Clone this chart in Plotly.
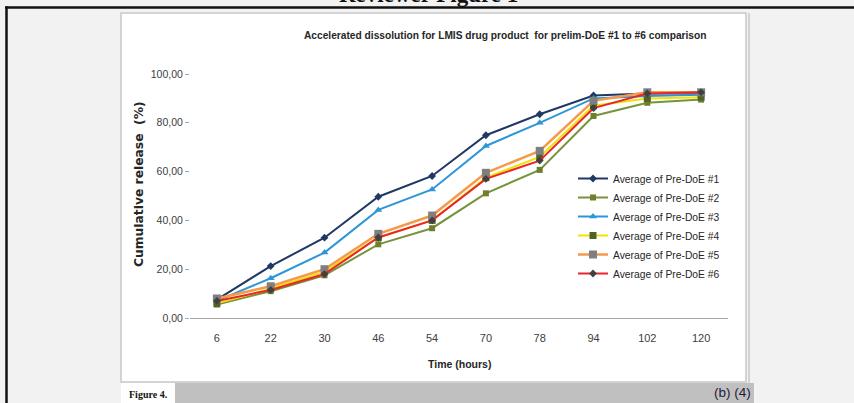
import plotly.graph_objects as go

# ---------------- data ----------------
time_hours = ["6", "22", "30", "46", "54", "70", "78", "94", "102", "120"]

doe1 = [7.5, 21.3, 32.9, 49.7, 58.2, 74.9, 83.5, 91.2, 92.0, 92.0]
doe2 = [5.5, 11.0, 17.5, 30.2, 36.8, 51.1, 60.7, 82.8, 88.2, 89.5]
doe3 = [7.0, 16.3, 26.8, 44.3, 52.7, 70.5, 80.0, 90.0, 91.0, 91.5]
doe4 = [6.0, 12.0, 19.0, 33.0, 40.0, 57.5, 66.0, 87.0, 90.0, 90.5]
doe5 = [8.0, 13.0, 20.0, 34.5, 42.0, 59.5, 68.5, 89.0, 92.5, 92.5]
doe6 = [7.0, 11.5, 18.0, 33.0, 40.0, 57.0, 64.5, 86.0, 92.0, 92.5]

series_names = ["Average of Pre-DoE #1", "Average of Pre-DoE #2", "Average of Pre-DoE #3",
                "Average of Pre-DoE #4", "Average of Pre-DoE #5", "Average of Pre-DoE #6"]

y_tick_values = [0, 20, 40, 60, 80, 100]
y_tick_labels = ["0,00", "20,00", "40,00", "60,00", "80,00", "100,00"]

chart_title = "Accelerated dissolution for LMIS drug product\u00a0 for prelim-DoE #1 to #6 comparison"
x_title = "Time (hours)"
y_title = "Cumulative release\u00a0 (%)"

# ---------------- styles ----------------
W, H = 854, 403
X0, X1, YB, YT = 190, 728, 318, 74   # plot area in pixels


def px(x):
    return (x - X0) / (X1 - X0)


def py(y):
    return (YB - y) / (YB - YT)


SANS = "Liberation Sans, Arial, sans-serif"

styles = [
    dict(line=dict(color="#1f3864", width=2), marker=dict(symbol="diamond", size=6, color="#1f3864")),
    dict(line=dict(color="#77933c", width=2), marker=dict(symbol="square", size=6, color="#6f7f2a")),
    dict(line=dict(color="#2e96d6", width=2), marker=dict(symbol="triangle-up", size=7, color="#2e96d6")),
    dict(line=dict(color="#f2e200", width=2), marker=dict(symbol="square", size=7, color="#4f6228")),
    dict(line=dict(color="#f59a4a", width=2.5), marker=dict(symbol="square", size=8, color="#7f7f7f")),
    dict(line=dict(color="#e8262b", width=2), marker=dict(symbol="diamond", size=6, color="#404040")),
]

fig = go.Figure()
for name, vals, st in zip(series_names, [doe1, doe2, doe3, doe4, doe5, doe6], styles):
    fig.add_trace(go.Scatter(x=time_hours, y=vals, mode="lines+markers", name=name,
                             line=st["line"], marker=st["marker"]))

shapes = [
    # chart image box
    dict(type="rect", xref="paper", yref="paper", x0=px(121), x1=px(746), y0=py(382), y1=py(13),
         fillcolor="white", line=dict(color="#c8c8c8", width=1.5), layer="below"),
    dict(type="line", xref="paper", yref="paper", x0=px(749), x1=px(749), y0=py(384), y1=py(13),
         line=dict(color="#c8c8c8", width=1.5)),
    # bottom gray bar + white label box
    dict(type="rect", xref="paper", yref="paper", x0=px(175), x1=px(754), y0=py(404), y1=py(383),
         fillcolor="#c0c0c0", line=dict(width=0)),
    dict(type="rect", xref="paper", yref="paper", x0=px(121), x1=px(175), y0=py(404), y1=py(383),
         fillcolor="white", line=dict(width=0)),
    # black page border lines
    dict(type="line", xref="paper", yref="paper", x0=px(5), x1=px(860), y0=py(7.5), y1=py(7.5),
         line=dict(color="#111111", width=2.5)),
    dict(type="line", xref="paper", yref="paper", x0=px(6.5), x1=px(6.5), y0=py(6.5), y1=py(410),
         line=dict(color="#111111", width=2.5)),
]

annotations = [
    dict(text="<b>Reviewer Figure 1</b>", x=px(428), y=py(-6), xref="paper", yref="paper",
         showarrow=False, xanchor="center", yanchor="middle",
         font=dict(family="Liberation Serif, Times New Roman, serif", size=23, color="#111111")),
    dict(text="<b>" + chart_title + "</b>", x=px(505), y=py(36), xref="paper", yref="paper",
         showarrow=False, xanchor="center", yanchor="middle",
         font=dict(family=SANS, size=10.2, color="#262626")),
    dict(text="<b>" + y_title + "</b>", x=px(139), y=py(184), xref="paper", yref="paper",
         showarrow=False, textangle=-90, xanchor="center", yanchor="middle",
         font=dict(family="DejaVu Sans, Verdana, sans-serif", size=12.3, color="#262626")),
    dict(text="<b>" + x_title + "</b>", x=px(459), y=py(364), xref="paper", yref="paper",
         showarrow=False, xanchor="center", yanchor="middle",
         font=dict(family=SANS, size=10.5, color="#262626")),
    dict(text="<b>Figure 4.</b>", x=px(127), y=py(394), xref="paper", yref="paper",
         showarrow=False, xanchor="left", yanchor="middle",
         font=dict(family="Liberation Serif, Times New Roman, serif", size=10, color="#111111")),
    dict(text="(b) (4)", x=px(753), y=py(392), xref="paper", yref="paper",
         showarrow=False, xanchor="right", yanchor="middle",
         font=dict(family=SANS, size=13.5, color="#1c1c3c")),
]

fig.update_layout(
    width=W, height=H,
    margin=dict(l=X0, r=W - X1, t=YT, b=H - YB, pad=0),
    paper_bgcolor="#f2f2f2",
    plot_bgcolor="white",
    showlegend=True,
    legend=dict(x=px(573), y=py(164), xanchor="left", yanchor="top",
                bgcolor="rgba(0,0,0,0)", tracegroupgap=0,
                font=dict(family=SANS, size=10.3, color="#262626")),
    shapes=shapes,
    annotations=annotations,
    xaxis=dict(type="category", range=[-0.5, 9.5], showgrid=False, zeroline=False,
               showline=True, linecolor="#a6a6a6", linewidth=1, ticks="",
               ticklabelstandoff=10,
               tickfont=dict(family=SANS, size=11, color="#404040")),
    yaxis=dict(range=[0, 100], tickmode="array", tickvals=y_tick_values, ticktext=y_tick_labels,
               showgrid=False, zeroline=False, showline=False,
               ticks="outside", ticklen=4, tickcolor="#a6a6a6",
               tickfont=dict(family=SANS, size=10.5, color="#404040")),
)

fig.write_html("out.html", config={"displayModeBar": False},
               post_script="document.body.style.margin='0';document.body.style.overflow='hidden';")
